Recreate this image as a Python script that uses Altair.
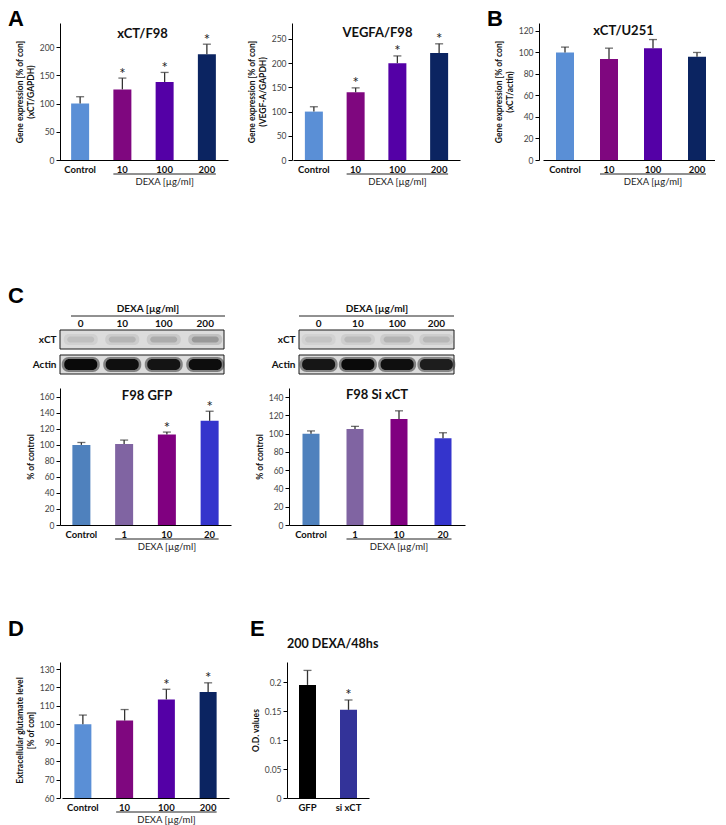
import altair as alt
import pandas as pd

FONT = "Lato"
LFONT = "Liberation Sans"

# ---------------- data ----------------
dexa_groups = ["Control", "10", "100", "200"]
a1_mean = [100, 125, 138, 187]
a1_err = [12, 20, 17, 18]
a1_sig = [0, 1, 1, 1]
a2_mean = [100, 140, 200, 221]
a2_err = [10, 9, 15, 19]
a2_sig = [0, 1, 1, 1]
b_mean = [100, 94, 104, 96]
b_err = [5, 10, 8, 4]
b_sig = [0, 0, 0, 0]
dexa_colors = ["#5a8fd6", "#7f077f", "#5400a6", "#0b2461"]

low_groups = ["Control", "1", "10", "20"]
c1_mean = [100, 101, 113, 130]
c1_err = [3, 5, 3, 12]
c1_sig = [0, 0, 1, 1]
c2_mean = [100, 105, 116, 95]
c2_err = [3, 3, 9, 6]
c2_sig = [0, 0, 0, 0]
low_colors = ["#4f81bd", "#8064a2", "#800080", "#3434cc"]

lanes = ["0", "10", "100", "200"]
blot_rows = ["xCT", "Actin"]
gfp_xct = [0.12, 0.16, 0.20, 0.28]
gfp_actin = [0.97, 0.95, 0.93, 0.96]
si_xct = [0.10, 0.14, 0.17, 0.15]
si_actin = [0.92, 0.97, 0.95, 0.88]

d_mean = [100, 102, 113.5, 117.5]
d_err = [5, 6, 5.5, 5]
d_sig = [0, 0, 1, 1]

e_groups = ["GFP", "si xCT"]
e_mean = [0.195, 0.152]
e_err = [0.025, 0.017]
e_sig = [0, 1]
e_colors = ["#000000", "#333399"]


def one():
    return pd.DataFrame({"k": [0]})


def spacer(w, h):
    return (alt.Chart(one()).mark_point(opacity=0)
            .encode(x=alt.value(0), y=alt.value(0))
            .properties(width=w, height=h))


def letter_layer(txt, lx, ly):
    return (alt.Chart(one())
            .mark_text(text=txt, font=LFONT, fontSize=22, fontWeight="bold",
                       align="left", baseline="top", color="#000")
            .encode(x=alt.value(lx), y=alt.value(ly)))


def bar_panel(groups, mean, err, sig, colors, w, h, rng, bw, ydom, yvals, ytitle,
              title=None, tpos=None, dexa=None, yfmt="d", zero=True,
              letter=None, lpos=None, top_title=None):
    df = pd.DataFrame({
        "g": groups,
        "m": mean,
        "top": [m + e for m, e in zip(mean, err)],
        "star": ["*" if s else "" for s in sig],
        "c": colors,
    })
    step = (rng[1] - rng[0]) / len(groups)
    pad = 1 - bw / step
    xs = alt.Scale(domain=groups, range=rng, paddingInner=pad, paddingOuter=pad / 2)
    ys = alt.Scale(domain=ydom, nice=False, zero=zero)
    xaxis = alt.Axis(title=None, labelAngle=0, ticks=False, domainColor="#000",
                     domainWidth=1, labelFont=FONT, labelFontSize=9.5,
                     labelFontWeight="bold", labelColor="#111", labelPadding=4,
                     grid=False)
    yaxis = alt.Axis(values=yvals, title=ytitle, format=yfmt, grid=False,
                     domainColor="#000", domainWidth=1, tickColor="#000",
                     tickSize=4, tickWidth=1, labelFont=FONT, labelFontSize=8.5,
                     labelColor="#444", labelPadding=2, titleFont=FONT,
                     titleFontSize=8.5, titleFontWeight="bold", titleColor="#111",
                     titlePadding=4)

    def mkX(field):
        return alt.X(field, type="nominal", scale=xs, axis=xaxis, sort=groups)

    def mkY(field):
        return alt.Y(field, type="quantitative", scale=ys, axis=yaxis)

    X = mkX("g")
    base = alt.Chart(df)
    layers = [
        base.mark_bar(clip=True).encode(
            x=X, y=mkY("m"),
            color=alt.Color("c:N", scale=None, legend=None)),
        base.mark_rule(color="#333", strokeWidth=1.3).encode(
            x=X, y=mkY("m"), y2="top:Q"),
        base.mark_tick(color="#333", thickness=1.3, size=8, orient="horizontal").encode(
            x=X, y=mkY("top")),
        base.mark_text(font=FONT, fontSize=15, color="#222", baseline="middle",
                       dy=-4.5).encode(
            x=X, y=mkY("top"), text="star:N"),
    ]
    if title:
        layers.append(
            alt.Chart(one()).mark_text(text=title, font=FONT, fontSize=13,
                                       fontWeight="bold", color="#111",
                                       baseline="middle", align="center")
            .encode(x=alt.value(tpos[0]), y=alt.value(tpos[1])))
    if dexa:
        ln = pd.DataFrame({"a": [dexa[0]], "b": [dexa[2]]})
        layers.append(
            alt.Chart(ln).mark_rule(color="#222", strokeWidth=1,
                                    xOffset=-bw / 2, x2Offset=bw / 2)
            .encode(x=mkX("a"), x2="b:N", y=alt.value(h + 14)))
        tx = pd.DataFrame({"a": [dexa[1]]})
        layers.append(
            alt.Chart(tx).mark_text(text="DEXA [µg/ml]", font=FONT, fontSize=9.5,
                                    color="#222", baseline="middle", align="center")
            .encode(x=mkX("a"), y=alt.value(h + 22)))
    if top_title:
        layers.append(
            alt.Chart(one()).mark_text(text=top_title, font=FONT, fontSize=12.5,
                                       fontWeight="bold", color="#111",
                                       baseline="middle", align="left")
            .encode(x=alt.value(0), y=alt.value(-18)))
    if letter:
        layers.append(letter_layer(letter, lpos[0], lpos[1]))
    return alt.layer(*layers).properties(width=w, height=h)


def blot_panel(xct, actin, w, h, label_cx, line_x1, line_x2, letter=None, lpos=None):
    df = pd.DataFrame({"lane": lanes * 2,
                       "row": ["xCT"] * 4 + ["Actin"] * 4,
                       "v": xct + actin})
    xs = alt.Scale(domain=lanes, range=[0, w + 2], paddingInner=0.2, paddingOuter=0.1)
    ys = alt.Scale(domain=blot_rows, paddingInner=0.24, paddingOuter=0)
    xaxis = alt.Axis(orient="top", title=None, ticks=False, domain=False,
                     labelAngle=0, labelFont=FONT, labelFontSize=10,
                     labelFontWeight="bold", labelColor="#111", labelPadding=2,
                     grid=False)
    yaxis = alt.Axis(title=None, ticks=False, domain=False, labelFont=FONT,
                     labelFontSize=10, labelFontWeight="bold", labelColor="#111",
                     labelPadding=4, grid=False)
    X = alt.X("lane:N", scale=xs, axis=xaxis, sort=lanes)
    Y = alt.Y("row:N", scale=ys, axis=yaxis, sort=blot_rows)
    colour = alt.Color("v:Q", scale=alt.Scale(domain=[0, 1], range=["#dcdcdc", "#000000"]),
                       legend=None)
    base = alt.Chart(df)
    box = (alt.Chart(pd.DataFrame({"row": blot_rows}))
           .mark_rect(fill="#dcdcdc", stroke="#1a1a1a", strokeWidth=1)
           .encode(x=alt.value(0), x2=alt.value(w), y=Y))
    xct_b = base.transform_filter(alt.datum.row == "xCT")
    act_b = base.transform_filter(alt.datum.row == "Actin")
    layers = [
        box,
        xct_b.mark_rect(width=34, height=11, cornerRadius=5, opacity=0.4).encode(x=X, y=Y, color=colour),
        xct_b.mark_rect(width=27, height=6, cornerRadius=3).encode(x=X, y=Y, color=colour),
        act_b.mark_rect(width=38, height=15, cornerRadius=7, opacity=0.45).encode(x=X, y=Y, color=colour),
        act_b.mark_rect(width=33, height=11, cornerRadius=5).encode(x=X, y=Y, color=colour),
        alt.Chart(one()).mark_rule(color="#222", strokeWidth=1)
        .encode(x=alt.value(line_x1), x2=alt.value(line_x2), y=alt.value(-14)),
        alt.Chart(one()).mark_text(text="DEXA [µg/ml]", font=FONT, fontSize=10,
                                   fontWeight="bold", color="#111",
                                   baseline="middle", align="center")
        .encode(x=alt.value(label_cx), y=alt.value(-21)),
    ]
    if letter:
        layers.append(letter_layer(letter, lpos[0], lpos[1]))
    return alt.layer(*layers).properties(width=w, height=h)


# ---------------- panels ----------------
A1 = bar_panel(dexa_groups, a1_mean, a1_err, a1_sig, dexa_colors, 165, 137, [-1, 168], 18,
               [0, 242.5], [0, 50, 100, 150, 200],
               ["Gene expression [% of con]", "(xCT/GAPDH)"],
               title="xCT/F98", tpos=(82.5, 11), dexa=("10", "100", "200"),
               letter="A", lpos=(-52, -14))
A2 = bar_panel(dexa_groups, a2_mean, a2_err, a2_sig, dexa_colors, 161, 137, [1, 168], 18,
               [0, 283], [0, 50, 100, 150, 200, 250],
               ["Gene expression [% of con]", "(VEGF-A/GAPDH)"],
               title="VEGFA/F98", tpos=(85.5, 10), dexa=("10", "100", "200"))
B = bar_panel(dexa_groups, b_mean, b_err, b_sig, dexa_colors, 174, 137, [4, 180], 18,
              [0, 127.4], [0, 20, 40, 60, 80, 100, 120],
              ["Gene expression [% of con]", "(xCT/actin)"],
              title="xCT/U251", tpos=(84.5, 8), dexa=("10", "100", "200"),
              letter="B", lpos=(-52, -14))

BL = blot_panel(gfp_xct, gfp_actin, 164, 44, 88, 11, 165, letter="C", lpos=(-52, -43.6))
BR = blot_panel(si_xct, si_actin, 155, 44, 78, 0, 155)

C1 = bar_panel(low_groups, c1_mean, c1_err, c1_sig, low_colors, 171, 137, [0, 171], 18,
               [0, 171], [0, 20, 40, 60, 80, 100, 120, 140, 160], "% of control",
               title="F98 GFP", tpos=(87, 8), dexa=("1", "10", "20"))
C2 = bar_panel(low_groups, c2_mean, c2_err, c2_sig, low_colors, 177, 137, [0, 176], 17,
               [0, 150], [0, 20, 40, 60, 80, 100, 120, 140], "% of control",
               title="F98 Si xCT", tpos=(88, 7), dexa=("1", "10", "20"))

D = bar_panel(dexa_groups, d_mean, d_err, d_sig, dexa_colors, 159, 136, [2, 169], 17,
              [60, 133.8], [60, 70, 80, 90, 100, 110, 120, 130],
              ["Extracellular glutamate level", "[% of con]"],
              dexa=("10", "100", "200"), zero=False,
              letter="D", lpos=(-52, -42.6))
E = bar_panel(e_groups, e_mean, e_err, e_sig, e_colors, 83, 136, [0, 82], 17,
              [0, 0.2345], [0, 0.05, 0.1, 0.15, 0.2], "O.D. values",
              yfmt=".2~f", top_title="200 DEXA/48hs",
              letter="E", lpos=(-37, -42.6))

row1 = alt.hconcat(A1, spacer(67, 1), A2, spacer(86, 1), B, spacing=0, bounds="flush")
row2 = alt.hconcat(BL, spacer(75, 1), BR, spacing=0, bounds="flush")
row3 = alt.hconcat(C1, spacer(58, 1), C2, spacing=0, bounds="flush")
row4 = alt.hconcat(D, spacer(68, 1), E, spacing=0, bounds="flush")

# nested rows count as zero height in the flush layout, so the spacers carry row height + gap
chart = (alt.vconcat(row1, spacer(1, 137 + 170), row2, spacer(1, 44 + 14), row3,
                     spacer(1, 137 + 137), row4,
                     spacing=0, bounds="flush")
         .properties(padding=0, background="white")
         .configure_view(stroke=None))

chart.save("out.html", embed_options={"renderer": "svg", "actions": False})
